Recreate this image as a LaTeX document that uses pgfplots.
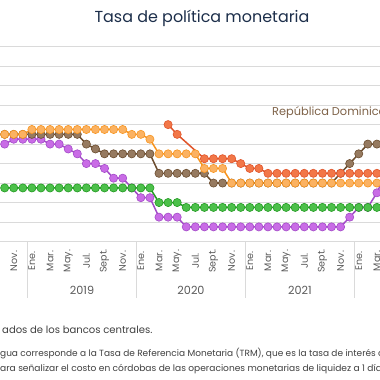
\documentclass[border=0pt]{standalone}
\usepackage{pgfplots}
\pgfplotsset{compat=1.18}
\usepackage{fontspec}
\setmainfont{Poppins}
\definecolor{gridc}{HTML}{DADADA}
\definecolor{tickc}{HTML}{5A5A5A}
\definecolor{titlec}{HTML}{1C2E4A}
\definecolor{notec}{HTML}{404040}
\definecolor{hondL}{HTML}{F7941E}
\definecolor{hondF}{HTML}{FBB262}
\definecolor{nicL}{HTML}{E0542A}
\definecolor{nicF}{HTML}{F27748}
\definecolor{drL}{HTML}{6B4C2E}
\definecolor{drF}{HTML}{967A60}
\definecolor{guaL}{HTML}{229A22}
\definecolor{guaF}{HTML}{4CC04A}
\definecolor{crL}{HTML}{A34BC8}
\definecolor{crF}{HTML}{C96CE6}
\definecolor{drtext}{HTML}{7E6248}

\pgfplotstableread{
m v
-3 5.0
-2 5.25
-1 5.25
0 5.25
1 5.25
2 5.0
3 5.0
4 4.75
5 4.5
6 4.0
7 4.0
8 3.75
9 3.25
10 3.25
11 2.75
12 2.25
13 2.25
14 1.25
15 1.25
16 1.25
17 0.75
18 0.75
19 0.75
20 0.75
21 0.75
22 0.75
23 0.75
24 0.75
25 0.75
26 0.75
27 0.75
28 0.75
29 0.75
30 0.75
31 0.75
32 0.75
33 0.75
34 0.75
35 1.25
36 1.75
37 1.75
38 2.5
39 3.5
}\costarica

\pgfplotstableread{
m v
-3 5.5
-2 5.5
-1 5.5
0 5.5
1 5.5
2 5.5
3 5.5
4 5.5
5 5.5
6 5.0
7 4.75
8 4.5
9 4.5
10 4.5
11 4.5
12 4.5
13 4.5
14 3.5
15 3.5
16 3.5
17 3.5
18 3.5
19 3.5
20 3.0
21 3.0
22 3.0
23 3.0
24 3.0
25 3.0
26 3.0
27 3.0
28 3.0
29 3.0
30 3.0
31 3.0
32 3.0
33 3.0
34 3.5
35 4.0
36 4.5
37 5.0
38 5.0
39 5.0
}\dominicana

\pgfplotstableread{
m v
-3 2.75
-2 2.75
-1 2.75
0 2.75
1 2.75
2 2.75
3 2.75
4 2.75
5 2.75
6 2.75
7 2.75
8 2.75
9 2.75
10 2.75
11 2.75
12 2.75
13 2.75
14 2.0
15 2.0
16 2.0
17 1.75
18 1.75
19 1.75
20 1.75
21 1.75
22 1.75
23 1.75
24 1.75
25 1.75
26 1.75
27 1.75
28 1.75
29 1.75
30 1.75
31 1.75
32 1.75
33 1.75
34 1.75
35 1.75
36 1.75
37 1.75
38 1.75
39 1.75
}\guatemala

\pgfplotstableread{
m v
15 6.0
16 5.5
19 4.25
20 4.25
21 4.25
22 4.25
23 4.0
24 3.75
25 3.75
26 3.5
27 3.5
28 3.5
29 3.5
30 3.5
31 3.5
32 3.5
33 3.5
34 3.5
35 3.5
36 3.5
37 3.5
38 3.5
39 3.5
}\nicaragua

\pgfplotstableread{
m v
-3 5.5
-2 5.5
-1 5.5
0 5.75
1 5.75
2 5.75
3 5.75
4 5.75
5 5.75
6 5.75
7 5.75
8 5.75
9 5.75
10 5.75
11 5.5
12 5.5
13 5.25
14 4.5
15 4.5
16 4.5
17 4.5
18 4.5
19 3.75
20 3.75
21 3.75
22 3.0
23 3.0
24 3.0
25 3.0
26 3.0
27 3.0
28 3.0
29 3.0
30 3.0
31 3.0
32 3.0
33 3.0
34 3.0
35 3.0
36 3.0
37 3.0
38 3.0
39 3.0
}\honduras

\begin{document}
\begin{tikzpicture}[x=1bp,y=1bp]
\useasboundingbox (0,0) rectangle (380,380);
\clip (0,0) rectangle (380,380);
\begin{axis}[
  at={(0bp,138.5bp)}, anchor=south west,
  scale only axis, width=380bp, height=194.8bp,
  xmin=-3.513, xmax=38.34, ymin=0, ymax=10,
  ytick={0,1,2,3,4,5,6,7,8,9,10}, yticklabels={},
  ymajorgrids, grid style={draw=gridc, line width=0.9bp},
  axis line style={draw=none},
  major tick length=0pt,
  xtick={-4,-2,0,2,4,6,8,10,12,14,16,18,20,22,24,26,28,30,32,34,36,38},
  xticklabels={Sept.,Nov.,Ene.,Mar.,May.,Jul.,Sept.,Nov.,Ene.,Mar.,May.,Jul.,Sept.,Nov.,Ene.,Mar.,May.,Jul.,Sept.,Nov.,Ene.,Mar.},
  xticklabel style={yshift=-19.5bp, rotate=90, anchor=center,
    font=\fontsize{9.6}{10}\selectfont, text=tickc},
  clip=true,
]
\addplot[crL, line width=1.5bp, mark=*, mark size=4.1bp,
  mark options={fill=crF, draw=crL, line width=0.6bp}] table[x=m,y=v] {\costarica};
\addplot[drL, line width=1.5bp, mark=*, mark size=4.1bp,
  mark options={fill=drF, draw=drL, line width=0.6bp}] table[x=m,y=v] {\dominicana};
\addplot[guaL, line width=1.5bp, mark=*, mark size=4.1bp,
  mark options={fill=guaF, draw=guaL, line width=0.6bp}] table[x=m,y=v] {\guatemala};
\addplot[nicL, line width=1.5bp, mark=*, mark size=4.1bp,
  mark options={fill=nicF, draw=nicL, line width=0.6bp}] table[x=m,y=v] {\nicaragua};
\addplot[hondL, line width=1.5bp, mark=*, mark size=4.1bp,
  mark options={fill=hondF, draw=hondL, line width=0.6bp}] table[x=m,y=v] {\honduras};
\end{axis}
% year separators
\foreach \xx in {27.3,136.7,245.7,354.3} {
  \draw[gridc, line width=0.9bp] (\xx,138.5) -- (\xx,82);
}
\node[text=tickc, font=\fontsize{11.3}{12}\selectfont] at (82,89.3) {2019};
\node[text=tickc, font=\fontsize{11.3}{12}\selectfont] at (191,89.3) {2020};
\node[text=tickc, font=\fontsize{11.3}{12}\selectfont] at (300,89.3) {2021};
% title
\node[text=titlec, font=\fontsize{16}{18}\selectfont] at (202,362) {Tasa de política monetaria};
% series label
\node[text=drtext, anchor=west, inner sep=0pt, font=\fontsize{11.4}{13}\selectfont] at (272,267) {República Dominicana};
% notes
\node[text=notec, anchor=west, inner sep=0pt, font=\fontsize{10.1}{12}\selectfont] at (2,50) {ados de los bancos centrales.};
\node[text=notec, anchor=west, inner sep=0pt, font=\fontsize{9}{10}\selectfont] at (0,26) {gua corresponde a la Tasa de Referencia Monetaria (TRM), que es la tasa de interés de};
\node[text=notec, anchor=west, inner sep=0pt, font=\fontsize{9.1}{10}\selectfont] at (0,11) {ara señalizar el costo en córdobas de las operaciones monetarias de liquidez a 1 día};
\end{tikzpicture}
\end{document}
